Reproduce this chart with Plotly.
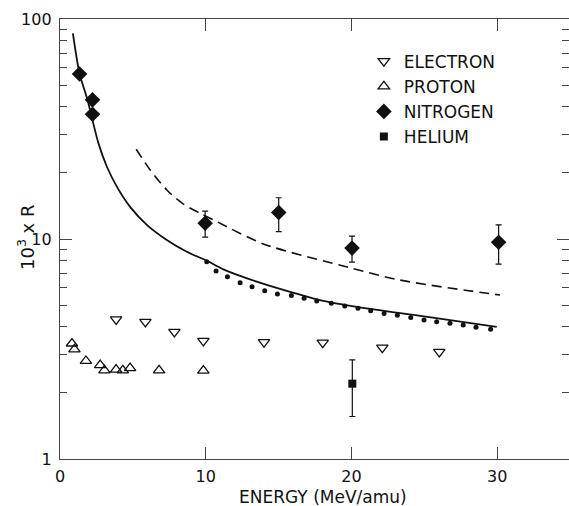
import plotly.graph_objects as go

# ---- data ----
electron_x = [3.85, 5.86, 7.85, 9.84, 14.0, 18.03, 22.12, 26.03]
electron_y = [4.31, 4.20, 3.78, 3.44, 3.40, 3.38, 3.21, 3.07]

proton_x = [0.82, 0.99, 1.78, 2.76, 3.05, 3.85, 4.31, 4.81, 6.8, 9.84]
proton_y = [3.35, 3.15, 2.79, 2.67, 2.53, 2.55, 2.53, 2.59, 2.53, 2.52]

nitrogen_x = [1.34, 2.23, 2.23, 9.96, 15.01, 20.04, 30.1]
nitrogen_y = [56.2, 42.9, 36.9, 11.8, 13.2, 9.09, 9.67]
nitrogen_hi = [None, None, None, 13.4, 15.4, 10.3, 11.6]
nitrogen_lo = [None, None, None, 10.2, 10.8, 7.85, 7.69]

helium_x = [20.06]
helium_y = [2.2]
helium_hi = [2.82]
helium_lo = [1.56]

solid_x = [0.885, 1.34, 1.89, 2.23, 2.64, 3.22, 3.90, 4.81, 5.96, 7.33, 8.70, 10.08,
           11.21, 13.5, 15.79, 18.07, 20.59, 24.98, 29.97]
solid_y = [86.1, 56.6, 42.8, 34.7, 27.2, 21.3, 17.3, 14.0, 11.6, 9.9, 8.75, 7.96,
           7.28, 6.40, 5.75, 5.23, 4.89, 4.45, 3.99]

dashed_x = [5.23, 6.19, 7.33, 8.47, 9.62, 10.76, 13.96, 19.9, 23.3, 30.2]
dashed_y = [25.6, 20.6, 16.7, 14.4, 13.1, 12.0, 9.5, 7.4, 6.51, 5.56]

dotted_x = [10.07, 10.71, 11.49, 12.36, 13.18, 14.05, 14.92, 15.88, 16.75, 17.62, 18.62,
            19.54, 20.45, 21.32, 22.24, 23.15, 24.07, 24.98, 25.85, 26.76, 27.67, 28.55, 29.55]
dotted_y = [7.88, 7.16, 6.74, 6.33, 6.07, 5.82, 5.62, 5.53, 5.38, 5.23, 5.10,
            4.96, 4.84, 4.72, 4.59, 4.50, 4.40, 4.28, 4.21, 4.14, 4.07, 3.97, 3.89]

x_ticks = [0, 10, 20, 30]
y_ticks = [1, 10, 100]
y_tick_text = ["1", "10", "100"]
y_minor = [2, 3, 4, 5, 6, 7, 8, 9, 20, 30, 40, 50, 60, 70, 80, 90]

FONT = "DejaVu Sans"
INK = "#111111"
AX = "#444444"


def err_plus(hi, val):
    return [None if h is None else h - v for h, v in zip(hi, val)]


def err_minus(lo, val):
    return [None if l is None else v - l for l, v in zip(lo, val)]


fig = go.Figure()

fig.add_trace(go.Scatter(
    x=electron_x, y=electron_y, mode="markers", name="ELECTRON",
    marker=dict(symbol="triangle-down-open", size=10, color=INK, line=dict(width=1.3))))
fig.add_trace(go.Scatter(
    x=proton_x, y=proton_y, mode="markers", name="PROTON",
    marker=dict(symbol="triangle-up-open", size=10, color=INK, line=dict(width=1.3))))
fig.add_trace(go.Scatter(
    x=nitrogen_x, y=nitrogen_y, mode="markers", name="NITROGEN",
    marker=dict(symbol="diamond", size=12, color=INK),
    error_y=dict(type="data", symmetric=False,
                 array=err_plus(nitrogen_hi, nitrogen_y),
                 arrayminus=err_minus(nitrogen_lo, nitrogen_y),
                 color=INK, thickness=1.2, width=3)))
fig.add_trace(go.Scatter(
    x=helium_x, y=helium_y, mode="markers", name="HELIUM",
    marker=dict(symbol="square", size=8, color=INK),
    error_y=dict(type="data", symmetric=False,
                 array=err_plus(helium_hi, helium_y),
                 arrayminus=err_minus(helium_lo, helium_y),
                 color=INK, thickness=1.2, width=3)))

fig.add_trace(go.Scatter(
    x=solid_x, y=solid_y, mode="lines", showlegend=False,
    line=dict(color=INK, width=1.8, shape="spline", smoothing=0.8)))
fig.add_trace(go.Scatter(
    x=dashed_x, y=dashed_y, mode="lines", showlegend=False,
    line=dict(color=INK, width=1.6, dash="10px,6px", shape="spline", smoothing=0.8)))
fig.add_trace(go.Scatter(
    x=dotted_x, y=dotted_y, mode="markers", showlegend=False,
    marker=dict(symbol="circle", size=5, color=INK)))

fig.update_xaxes(
    range=[0, 34.93], tickmode="array", tickvals=x_ticks,
    ticks="inside", ticklen=12, tickwidth=1.2, tickcolor=AX,
    showline=True, linecolor=AX, linewidth=1.3, mirror="allticks",
    showgrid=False, zeroline=False, ticklabelstandoff=3,
    tickfont=dict(family=FONT, size=16, color=INK))
fig.update_yaxes(
    type="log", range=[0, 2], tickmode="array", tickvals=y_ticks, ticktext=y_tick_text,
    ticks="inside", ticklen=12, tickwidth=1.2, tickcolor=AX,
    minor=dict(tickmode="array", tickvals=y_minor, ticks="inside", ticklen=7,
               tickwidth=1.2, tickcolor=AX, showgrid=False),
    showline=True, linecolor=AX, linewidth=1.3, mirror="allticks",
    showgrid=False, zeroline=False, ticklabelstandoff=4,
    tickfont=dict(family=FONT, size=16, color=INK))

fig.add_annotation(xref="paper", yref="paper", x=-0.0668, y=0.5045,
                   text="10<sup>3</sup> x R", textangle=-90, showarrow=False,
                   xanchor="center", yanchor="middle",
                   font=dict(family=FONT, size=18, color=INK))
fig.add_annotation(xref="paper", yref="paper", x=0.516, y=-0.0864,
                   text="ENERGY (MeV/amu)", showarrow=False,
                   xanchor="center", yanchor="middle",
                   font=dict(family=FONT, size=17, color=INK))

fig.update_layout(
    width=569, height=506,
    margin=dict(l=60, r=0, t=19, b=47, autoexpand=False),
    paper_bgcolor="white", plot_bgcolor="white",
    legend=dict(x=0.597, y=0.944, xanchor="left", yanchor="top",
                bgcolor="rgba(0,0,0,0)", itemwidth=30,
                font=dict(family=FONT, size=17, color=INK)),
)

fig.write_html("out.html", config={"displayModeBar": False},
               post_script="document.body.style.margin='0';document.body.style.overflow='hidden';")
